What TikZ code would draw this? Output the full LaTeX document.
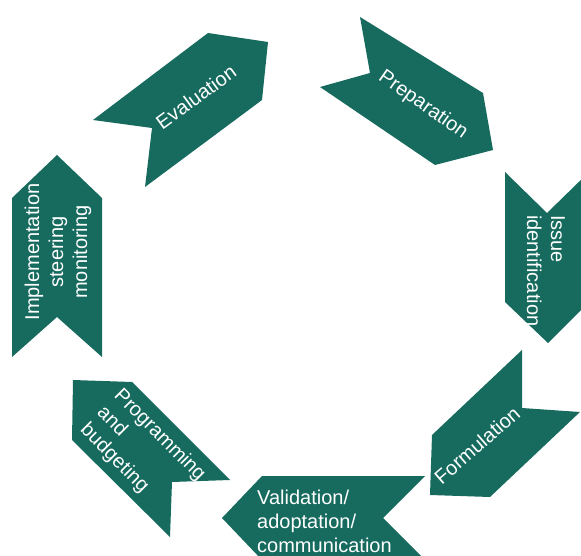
\documentclass[tikz,border=0pt]{standalone}
\usepackage{fontspec}
\setmainfont{Liberation Sans}
\definecolor{chevgreen}{RGB}{22,107,94}
\begin{document}
\begin{tikzpicture}[x=1pt,y=-1pt,
  chev/.style={fill=chevgreen,draw=none},
  lbl/.style={text=white,font=\fontsize{20}{24}\selectfont,inner sep=0pt}]
\useasboundingbox (0,0) rectangle (581,556);
\clip (0,0) rectangle (581,556);
% Evaluation
\fill[chev] (208,33) -- (268,42) -- (262,100) -- (145,187) -- (152,128) -- (93,120) -- cycle;
% Preparation
\fill[chev] (360,17) -- (483,93) -- (493,150) -- (435,165) -- (320,87) -- (370,73) -- cycle;
% Issue identification
\fill[chev] (505,172) -- (547,213) -- (589,172) -- (589,302) -- (548,343) -- (505,302) -- cycle;
% Formulation
\fill[chev] (522,350) -- (522,408) -- (580,412) -- (490,497) -- (430,495) -- (432,435) -- cycle;
% Validation
\fill[chev] (262,476) -- (425,476) -- (383,518) -- (425,560) -- (262,560) -- (222,518) -- cycle;
% Programming
\fill[chev] (73,380) -- (132,382) -- (230,480) -- (172,482) -- (170,537) -- (72,440) -- cycle;
% Implementation
\fill[chev] (57,155) -- (102,198) -- (102,357) -- (57,317) -- (12,357) -- (12,198) -- cycle;

\node[lbl,rotate=36] (eval) at (196,97) {Evaluation};
\node[lbl,rotate=-35] (prep) at (423,105) {Preparation};
\node[lbl,rotate=-90,align=left,anchor=west] (issue) at (546,215) {Issue\\identification};
\node[lbl,rotate=41] (form) at (477,445) {Formulation};
\node[lbl,align=left,anchor=west] (valid) at (257,521) {Validation/\\adoptation/\\communication};
\node[lbl,rotate=-45,align=left,anchor=west] (prog) at (100,410) {Programming\\and\\budgeting};
\node[lbl,rotate=90,align=center] (impl) at (58,252) {Implementation\\steering\\monitoring};
\end{tikzpicture}
\end{document}
